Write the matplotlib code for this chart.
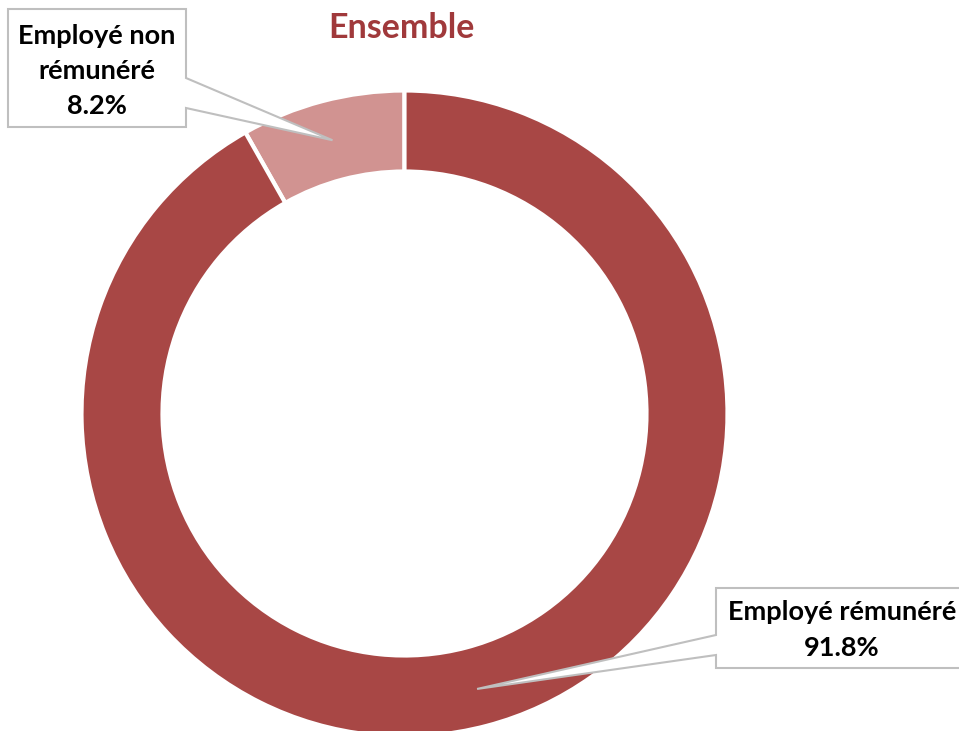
import numpy as np
import matplotlib.pyplot as plt
from matplotlib.patches import Polygon

plt.rcParams['font.family'] = ['Lato', 'DejaVu Sans']

# data
categories = ['Employé non\nrémunéré', 'Employé rémunéré']
values = [8.2, 91.8]
colors = ['#D19391', '#A84745']
title = 'Ensemble'

W, H = 959, 731
fig = plt.figure(figsize=(W / 100, H / 100), dpi=100)
ax = fig.add_axes([0, 0, 1, 1])

# donut, in pixel coordinates (y up); white edge eats ~1.5px on each side
cx, cy, R = 404.5, H - 413.5, 323
ring_w = 81
ax.pie(values, colors=colors, startangle=90, counterclock=True,
       center=(cx, cy), radius=R,
       wedgeprops=dict(width=ring_w, edgecolor='white', linewidth=3))
ax.set_xlim(0, W)
ax.set_ylim(0, H)
ax.set_aspect('equal')
ax.axis('off')

ax.text(401, H - 28, title, ha='center', va='center', fontsize=24.5,
        fontweight='bold', color='#A0393B')

# anchor points of the callouts, at each slice's middle angle
cum = np.cumsum([0] + values)
mid = 90 + (cum[:-1] + cum[1:]) / 2 * 3.6
anchor_r = [0.879, 0.886]
Rv = R - 1.5
anchors = [(cx + Rv * r * np.cos(np.radians(a)), cy + Rv * r * np.sin(np.radians(a)))
           for a, r in zip(mid, anchor_r)]


def up(pts):
    return [(x, H - y) for x, y in pts]


# callout 1 (box top-left, tail from right side)
p1 = up([(8, 9), (186, 9), (186, 78)]) + [anchors[0]] + up([(186, 108), (186, 127), (8, 127)])
# callout 2 (box bottom-right, tail from left side)
p2 = up([(716, 588), (962, 588), (962, 668), (716, 668), (716, 655)]) + [anchors[1]] + up([(716, 635)])
for pts in (p1, p2):
    ax.add_patch(Polygon(pts, closed=True, facecolor='white', edgecolor='#BFBFBF',
                         linewidth=1.5, zorder=5, clip_on=False))

boxes = [(97, H - 71), (842, H - 630)]
for (x, y), lab, v in zip(boxes, categories, values):
    ax.text(x, y, f'{lab}\n{v:.1f}%', ha='center', va='center', fontsize=19.5,
            fontweight='bold', color='black', linespacing=1.55, zorder=6)

fig.savefig('out.png', dpi=100)
